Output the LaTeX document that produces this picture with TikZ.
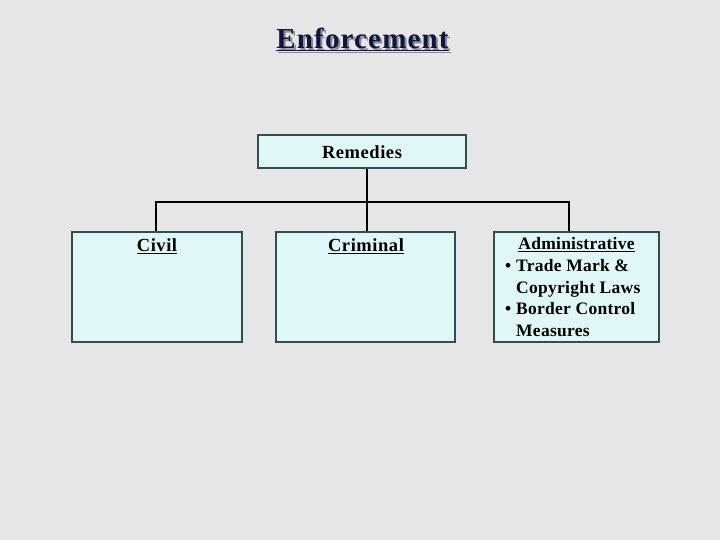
\documentclass[tikz,border=0pt]{standalone}
\usepackage{fontspec}
\setmainfont{Liberation Serif}
\usetikzlibrary{positioning}
\definecolor{bgColor}{RGB}{230,230,230}
\definecolor{boxFill}{RGB}{224,247,248}
\definecolor{boxDraw}{RGB}{47,80,82}
\definecolor{titleColor}{RGB}{16,22,64}
\definecolor{shadowColor}{RGB}{140,140,140}
\tikzset{
  remedybox/.style={draw=boxDraw,line width=1.6pt,fill=boxFill,inner sep=0pt},
  boxtext/.style={font=\bfseries\fontsize{18.5}{21.5}\selectfont\addfontfeature{LetterSpace=3},inner sep=0pt,anchor=base},
  listtext/.style={font=\bfseries\fontsize{17.5}{21.6}\selectfont\addfontfeature{LetterSpace=1.5},inner sep=0pt},
  titletext/.style={font=\bfseries\fontsize{29}{34}\selectfont\addfontfeature{LetterSpace=4},inner sep=0pt,anchor=base},
  link/.style={draw=black,line width=2.8pt,line cap=butt}
}
\begin{document}
\begin{tikzpicture}[x=1pt,y=1pt]
\path[use as bounding box,fill=bgColor] (0,0) rectangle (720,540);

% title
\node[titletext,text=shadowColor] (titleshadow) at (364.5,489) {\underline{Enforcement}};
\node[titletext,text=titleColor] (title) at (362.5,491) {\underline{Enforcement}};

% boxes
\node[remedybox,minimum width=208,minimum height=33] (rem) at (362,388.5) {};
\node[remedybox,minimum width=170,minimum height=110] (civil) at (157,253) {};
\node[remedybox,minimum width=179,minimum height=110] (crim) at (365.5,253) {};
\node[remedybox,minimum width=165,minimum height=110] (admin) at (576.5,253) {};

\node[boxtext] (remtext) at (362,381) {Remedies};
\node[boxtext] (civiltext) at (157,288) {\underline{Civil}};
\node[boxtext] (crimtext) at (366,288) {\underline{Criminal}};
\node[listtext,anchor=base] (admintext) at (576.5,290) {\underline{Administrative}};
\node[listtext,anchor=base west,align=left] (adminlist) at (505,203.5) {%
\makebox[11pt][l]{\textbullet}Trade Mark \&\\
\hspace*{11pt}Copyright Laws\\
\makebox[11pt][l]{\textbullet}Border Control\\
\hspace*{11pt}Measures};

% connectors
\coordinate (busL) at (156,338);
\coordinate (busM) at (367,338);
\coordinate (busR) at (569,338);
\path[link] (rem.south -| busM) -- (busM);
\path[link] ([xshift=-1.4pt]busL) -- ([xshift=1.4pt]busR);
\path[link] (busL) -- (busL |- civil.north);
\path[link] (busM) -- (busM |- crim.north);
\path[link] (busR) -- (busR |- admin.north);
\end{tikzpicture}
\end{document}
